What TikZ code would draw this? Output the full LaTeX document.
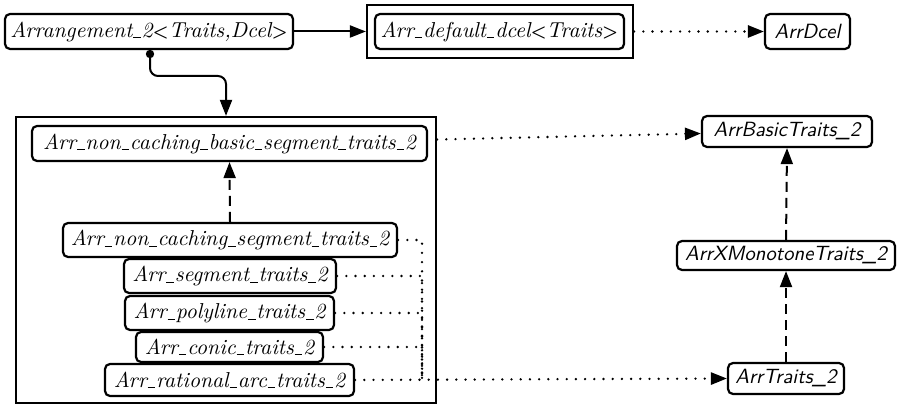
\documentclass[tikz,border=0pt]{standalone}
\usetikzlibrary{arrows.meta}
% short low rule used as the underscore in the italic class names
\newcommand\us{\kern0.4pt\rule[-0.5pt]{3.8pt}{0.45pt}\kern0.4pt}
% heavy angle brackets for template parameters
\newcommand\lt{{\upshape\sffamily\bfseries\small <}}
\newcommand\gt{{\upshape\sffamily\bfseries\small >}}
\begin{document}
\begin{tikzpicture}[x=0.5pt,y=-0.5pt,
  cls/.style={draw, rounded corners=2.5pt, line width=1.1pt, inner sep=0pt,
    minimum height=17.5pt, font=\fontsize{10.8}{12}\selectfont\itshape},
  iface/.style={cls, font=\fontsize{10.3}{12}\selectfont\sffamily\itshape},
  pack/.style={draw, line width=1.1pt, inner sep=0pt},
  tip/.style={-{Triangle[length=8pt,width=6pt]}},
  solidarrow/.style={tip, line width=1pt},
  dashedarrow/.style={tip, line width=1pt, dash pattern=on 5pt off 3pt},
  dotline/.style={line width=1.3pt, line cap=round, dash pattern=on 0pt off 4.6pt},
  dottedarrow/.style={dotline, tip}]
\useasboundingbox (0,0) rectangle (897,405);

% packages (outer frames)
\node[pack, minimum width=133pt, minimum height=26.5pt] (dcelpack) at (500,31.5) {};
\node[pack, minimum width=210pt, minimum height=143pt] (pkg) at (226,260) {};

% classes
\node[cls, minimum width=144pt] (arr) at (149,31.5) {Arrangement\us2\lt Traits,Dcel\gt};
\node[cls, minimum width=124.5pt] (dcel) at (499.5,31.5) {Arr\us default\us dcel\lt Traits\gt};
\node[cls, minimum width=197.5pt] (basic) at (229.5,143.5) {Arr\us non\us caching\us basic\us segment\us traits\us2};
\node[cls, minimum width=167pt, minimum height=17pt] (ncseg) at (230,240) {Arr\us non\us caching\us segment\us traits\us2};
\node[cls, minimum width=106pt, minimum height=17pt] (seg) at (230,276) {Arr\us segment\us traits\us2};
\node[cls, minimum width=104.5pt, minimum height=17pt] (poly) at (229.5,313) {Arr\us polyline\us traits\us2};
\node[cls, minimum width=93.5pt, minimum height=15pt] (conic) at (229.5,347) {Arr\us conic\us traits\us2};
\node[cls, minimum width=124.5pt, minimum height=16pt] (rat) at (229.5,380) {Arr\us rational\us arc\us traits\us2};

% concepts
\node[iface, minimum width=42.5pt] (arrdcel) at (807.5,31.5) {ArrDcel};
\node[iface, minimum width=85pt, minimum height=15.5pt] (abt) at (787,131.5) {ArrBasicTraits\_2};
\node[iface, minimum width=109pt, minimum height=14.5pt] (xmt) at (786,255.5) {ArrXMonotoneTraits\_2};
\node[iface, minimum width=58pt, minimum height=15.5pt] (at2) at (786,378.5) {ArrTraits\_2};

% connectors
\draw[solidarrow] (arr.east) -- (dcelpack.west);
\draw[dottedarrow] (dcelpack.east) -- (arrdcel.west);

\node[circle, fill, inner sep=0pt, minimum size=4.2pt] (knob) at (150,54) {};
\coordinate (bend) at (188,76);
\draw[solidarrow, rounded corners=4pt] (knob.center) |- (bend) -| (pkg.north);

\draw[dashedarrow] (ncseg.north) -- (basic.south);
\draw[dashedarrow] (xmt.north) -- (abt.south);
\draw[dashedarrow] (at2.north) -- (xmt.south);

\draw[dottedarrow] ([yshift=2pt]pkg.east |- basic.east) -- ([yshift=-1pt]abt.west);

\coordinate (rail) at (422,380);
\foreach \n in {ncseg,seg,poly,conic}
  \draw[dotline] (\n.east) -| (rail);
\draw[dottedarrow] (rat.east) -- (at2.west);
\end{tikzpicture}
\end{document}
